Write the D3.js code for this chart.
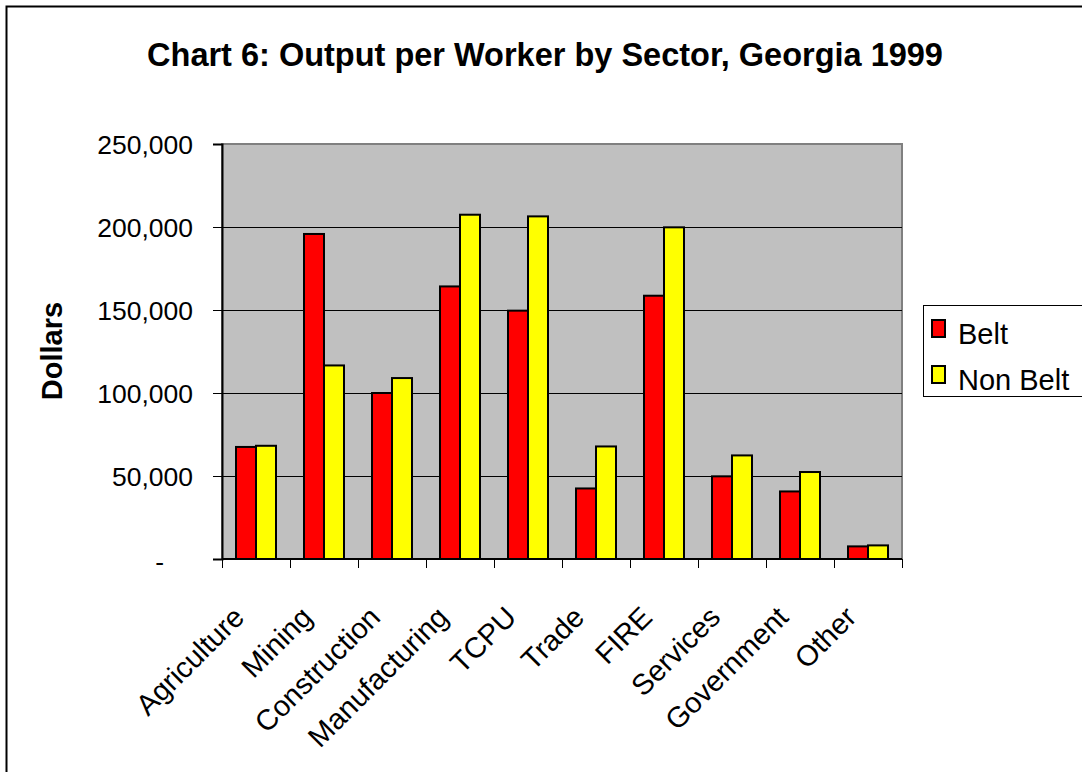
<!DOCTYPE html>
<html>
<head>
<meta charset="utf-8">
<script src="https://cdn.jsdelivr.net/npm/d3@7"></script>
<style>
  body { margin: 0; background: #fff; }
  text { font-family: "Liberation Sans", Arial, sans-serif; fill: #000; }
</style>
</head>
<body>
<div id="chart"></div>
<script>
(function () {

  // data
  var sectors = ["Agriculture", "Mining", "Construction", "Manufacturing", "TCPU",
                 "Trade", "FIRE", "Services", "Government", "Other"]
  var belt = [67500, 195800, 100000, 164200, 149600, 42500, 158600, 49800, 40700, 7600]
  var nonBelt = [68200, 116600, 109000, 207400, 206400, 67800, 199800, 62400, 52400, 8200]
  var yTicks = [0, 50000, 100000, 150000, 200000, 250000]
  var seriesNames = ["Belt", "Non Belt"]
  var seriesColors = ["#FF0000", "#FFFF00"]

  var width = 1082, height = 772
  var left = 222, right = 902, top = 144, bottom = 559

  var svg = d3.select("#chart").append("svg")
    .attr("width", width)
    .attr("height", height)

  // outer chart border (runs off the right/bottom edge)
  svg.append("rect")
    .attr("x", 6.5).attr("y", 6.5)
    .attr("width", 1200).attr("height", 900)
    .attr("fill", "#fff")
    .attr("stroke", "#000")
    .attr("stroke-width", 2)

  svg.append("text")
    .attr("x", 545).attr("y", 66)
    .attr("text-anchor", "middle")
    .style("font-size", "32.5px")
    .style("font-weight", "bold")
    .text("Chart 6: Output per Worker by Sector, Georgia 1999")

  var x = d3.scaleBand().domain(sectors).range([left, right])
  var x1 = d3.scaleBand().domain(seriesNames).range([14, 54])
  var y = d3.scaleLinear().domain([0, 250000]).range([bottom, top])

  // plot area
  svg.append("rect")
    .attr("x", left).attr("y", top)
    .attr("width", right - left).attr("height", bottom - top)
    .attr("fill", "#C0C0C0")
    .attr("stroke", "#808080")
    .attr("stroke-width", 2)

  // gridlines
  svg.append("g")
    .selectAll("line")
    .data(yTicks.filter(function (d) { return d > 0 && d < 250000 }))
    .enter().append("line")
      .attr("x1", left).attr("x2", right)
      .attr("y1", function (d) { return y(d) + 0.5 })
      .attr("y2", function (d) { return y(d) + 0.5 })
      .attr("stroke", "#000")
      .attr("stroke-width", 1)

  // bars
  var rows = sectors.map(function (s, i) {
    return { sector: s, values: [belt[i], nonBelt[i]] }
  })

  var groups = svg.append("g").selectAll("g")
    .data(rows)
    .enter().append("g")
      .attr("transform", function (d) { return "translate(" + x(d.sector) + ",0)" })

  groups.selectAll("rect")
    .data(function (d) {
      return d.values.map(function (v, j) { return { name: seriesNames[j], value: v, color: seriesColors[j] } })
    })
    .enter().append("rect")
      .attr("x", function (d) { return x1(d.name) })
      .attr("y", function (d) { return y(d.value) })
      .attr("width", x1.bandwidth())
      .attr("height", function (d) { return bottom - y(d.value) })
      .attr("fill", function (d) { return d.color })
      .attr("stroke", "#000")
      .attr("stroke-width", 2)

  // y axis
  var yAxis = d3.axisLeft(y)
    .tickValues(yTicks)
    .tickSize(9)
    .tickPadding(20)
    .tickFormat(function (d) { return d === 0 ? "-" : d3.format(",")(d) })

  var gy = svg.append("g")
    .attr("transform", "translate(" + left + ",0)")
    .call(yAxis)
  gy.select(".domain").attr("stroke", "#000").attr("stroke-width", 2)
  gy.selectAll(".tick line").attr("stroke", "#000")
  gy.selectAll(".tick text")
    .style("font-size", "26.5px")
    .attr("dy", "0.36em")
    .attr("font-family", null)
  gy.selectAll(".tick text")
    .filter(function (d) { return d === 0 })
    .attr("x", -58)
    .attr("dy", "0.45em")

  // x axis
  var gx = svg.append("g")
    .attr("transform", "translate(0," + bottom + ")")
  gx.append("line")
    .attr("x1", left).attr("x2", right)
    .attr("stroke", "#000").attr("stroke-width", 2)
  gx.selectAll(".tk")
    .data(sectors.concat(["end"]))
    .enter().append("line")
      .attr("class", "tk")
      .attr("x1", function (d, i) { return left + i * x.step() + 0.5 })
      .attr("x2", function (d, i) { return left + i * x.step() + 0.5 })
      .attr("y1", 0).attr("y2", 9)
      .attr("stroke", "#000")

  gx.selectAll(".lbl")
    .data(sectors)
    .enter().append("text")
      .attr("class", "lbl")
      .attr("text-anchor", "end")
      .attr("transform", function (d) {
        return "translate(" + (x(d) + x.bandwidth() / 2 - 10) + ",60) rotate(-45)"
      })
      .style("font-size", "29px")
      .text(function (d) { return d })

  // y title
  svg.append("text")
    .attr("transform", "translate(62,351) rotate(-90)")
    .attr("text-anchor", "middle")
    .style("font-size", "29px")
    .style("font-weight", "bold")
    .text("Dollars")

  // legend
  var legend = svg.append("g")
  legend.append("rect")
    .attr("x", 923.5).attr("y", 305.5)
    .attr("width", 200).attr("height", 91)
    .attr("fill", "#fff")
    .attr("stroke", "#000")

  var items = legend.selectAll(".item")
    .data(seriesNames)
    .enter().append("g")
      .attr("class", "item")
      .attr("transform", function (d, i) { return "translate(0," + (i * 46) + ")" })

  items.append("rect")
    .attr("x", 932).attr("y", 320)
    .attr("width", 13).attr("height", 17)
    .attr("fill", function (d, i) { return seriesColors[i] })
    .attr("stroke", "#000")
    .attr("stroke-width", 2)

  items.append("text")
    .attr("x", 958).attr("y", 344)
    .style("font-size", "29px")
    .text(function (d) { return d })

})();
</script>
</body>
</html>
